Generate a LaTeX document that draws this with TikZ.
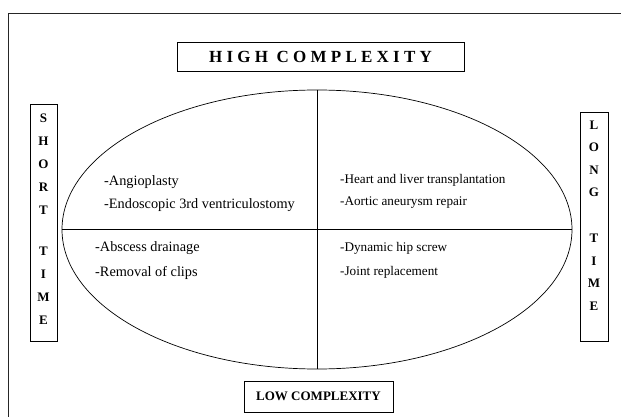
\documentclass[tikz,border=0pt]{standalone}
\usepackage{fontspec}
\setmainfont{Liberation Serif}
\newfontfamily\spacedfont[LetterSpace=25]{Liberation Serif}
\usetikzlibrary{shapes.geometric}
\begin{document}
\begin{tikzpicture}[x=1pt,y=-1pt,
  box/.style={draw,line width=0.8pt,inner sep=0pt,outer sep=0pt},
  iteml/.style={anchor=west,inner sep=0pt,font=\fontsize{14.3}{16}\selectfont},
  itemr/.style={anchor=west,inner sep=0pt,font=\fontsize{13.2}{15}\selectfont},
  stack/.style={align=center,inner sep=0pt}]
\useasboundingbox (0,0) rectangle (621,417);
\draw[line width=0.8pt, black!85] (8,417) -- (8,13) -- (621,13);
\node[draw, ellipse, minimum width=510pt, minimum height=279pt, inner sep=0pt, outer sep=0pt, line width=0.7pt] (ell) at (317,229.5) {};
\draw[line width=0.7pt] (ell.north) -- (ell.south);
\draw[line width=0.7pt] (ell.west) -- (ell.east);
\node[box, minimum width=287pt, minimum height=29pt, font=\spacedfont\bfseries\fontsize{17}{20}\selectfont] (high) at (320.5,56.5) {HIGH COMPLEXITY};
\node[box, minimum width=149pt, minimum height=31pt, font=\bfseries\fontsize{13}{15}\selectfont] (low) at (318.5,396.5) {LOW COMPLEXITY};
\node[box, minimum width=27pt, minimum height=237pt] (shortbox) at (43.5,222.5) {};
\node[stack, font=\bfseries\fontsize{13}{23}\selectfont] (shorttxt) at (43.5,219) {S\\H\\O\\R\\T\\[18pt]T\\I\\M\\E};
\node[box, minimum width=28pt, minimum height=229pt] (longbox) at (594,226.5) {};
\node[stack, font=\bfseries\fontsize{13}{22.5}\selectfont] (longtxt) at (594,215.5) {L\\O\\N\\G\\[23.5pt]T\\I\\M\\E};
\node[iteml] (a1) at (104,182) {-Angioplasty};
\node[iteml] (a2) at (104,205) {-Endoscopic 3rd ventriculostomy};
\node[iteml] (b1) at (95,248) {-Abscess drainage};
\node[iteml] (b2) at (95,273) {-Removal of clips};
\node[itemr] (c1) at (340,180) {-Heart and liver transplantation};
\node[itemr] (c2) at (340,203) {-Aortic aneurysm repair};
\node[itemr] (d1) at (340,248) {-Dynamic hip screw};
\node[itemr] (d2) at (340,272) {-Joint replacement};
\end{tikzpicture}
\end{document}
